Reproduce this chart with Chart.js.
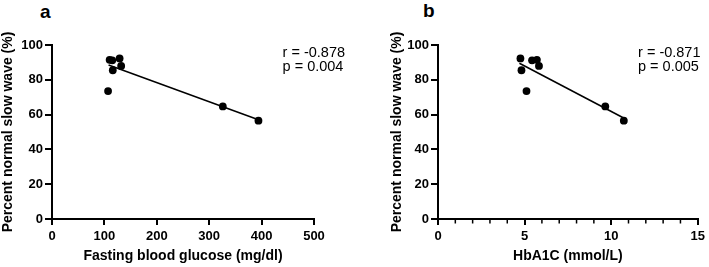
<!DOCTYPE html>
<html>
<head>
<meta charset="utf-8">
<script src="https://cdn.jsdelivr.net/npm/chart.js@4.4.1/dist/chart.umd.min.js"></script>
<style>
  html, body { margin: 0; padding: 0; background: #fff; }
  body { width: 709px; height: 267px; position: relative; overflow: hidden; font-family: "Liberation Sans", Arial, sans-serif; }
  canvas { position: absolute; top: 0; }
  #chartA { left: 0; }
  #chartB { left: 386px; }
  .panel { position: absolute; font-weight: bold; font-size: 19px; color: #000; }
</style>
</head>
<body>
<div class="panel" style="left:40px;top:1px;">a</div>
<div class="panel" style="left:423px;top:0px;">b</div>
<canvas id="chartA" width="380" height="267"></canvas>
<canvas id="chartB" width="323" height="267"></canvas>
<script>
// percent of normal slow wave, one value per patient
const slowWave = [73.5, 91.5, 91.2, 92.3, 85.5, 88.0, 64.7, 56.5]
// fasting blood glucose (mg/dl), same patient order
const glucose = [107, 110, 115, 129, 116, 132, 326, 394]
// HbA1C (mmol/L), same patient order
const hba1c = [5.11, 5.71, 5.43, 4.76, 4.82, 5.83, 9.66, 10.73]

// regression line end points
const fitGlucoseX = [108, 394]
const fitGlucoseY = [88.5, 57.0]
const fitHbX = [4.7, 10.75]
const fitHbY = [89.5, 57.9]

const yTicks = [0, 20, 40, 60, 80, 100]
const statsA = ['r = -0.878', 'p = 0.004']
const statsB = ['r = -0.871', 'p = 0.005']

Chart.defaults.font.family = '"Liberation Sans", Arial, Helvetica, sans-serif'
Chart.defaults.color = '#000'

// r / p text in the upper right of the plot
const statText = {
  id: 'statText',
  afterDraw(chart, args, opts) {
    const { ctx, scales } = chart
    const x = scales.x.getPixelForValue(opts.xValue)
    ctx.save()
    ctx.font = '14.5px "Liberation Sans", Arial, sans-serif'
    ctx.fillStyle = '#000'
    ctx.textBaseline = 'middle'
    ctx.textAlign = 'left'
    opts.lines.forEach((t, i) => {
      ctx.fillText(t, x, chart.chartArea.top + 8 + i * 14)
    })
    ctx.restore()
  }
}

// short unlabelled ticks between the major ones
const minorTicks = {
  id: 'minorTicks',
  afterDraw(chart, args, opts) {
    if (!opts.values) return
    const { ctx, scales } = chart
    const y0 = chart.chartArea.bottom
    ctx.save()
    ctx.strokeStyle = '#000'
    ctx.lineWidth = 1.5
    opts.values.forEach(v => {
      const x = scales.x.getPixelForValue(v)
      ctx.beginPath()
      ctx.moveTo(x, y0)
      ctx.lineTo(x, y0 + 4.5)
      ctx.stroke()
    })
    ctx.restore()
  }
}

function makeChart(id, xs, fitX, fitY, xOpts, xTitle, stats, statX, rightPad, yTitlePad, minor) {
  const points = xs.map((x, i) => ({ x: x, y: slowWave[i] }))
  const fit = fitX.map((x, i) => ({ x: x, y: fitY[i] }))
  return new Chart(document.getElementById(id), {
    type: 'scatter',
    data: {
      datasets: [
        {
          data: fit,
          showLine: true,
          borderColor: '#000',
          borderWidth: 1.5,
          pointRadius: 0,
          order: 2,
        },
        {
          data: points,
          backgroundColor: '#000',
          borderWidth: 0,
          pointRadius: 3.9,
          order: 1,
        },
      ],
    },
    options: {
      responsive: false,
      animation: false,
      events: [],
      layout: { padding: { top: 45, right: rightPad, left: 0, bottom: 0 } },
      plugins: {
        legend: { display: false },
        tooltip: { enabled: false },
        statText: { lines: stats, xValue: statX },
        minorTicks: { values: minor },
      },
      scales: {
        x: {
          type: 'linear',
          min: xOpts.min,
          max: xOpts.max,
          afterFit: s => { s.height = 48 },
          afterBuildTicks: s => { s.ticks = xOpts.ticks.map(v => ({ value: v })) },
          border: { color: '#000', width: 2 },
          grid: { drawOnChartArea: false, color: '#000', lineWidth: 2, tickLength: 6 },
          ticks: { font: { size: 13, weight: 'bold' }, padding: 4, color: '#000', maxRotation: 0 },
          title: { display: true, text: xTitle, font: { size: 14, weight: 'bold' }, padding: { top: 0, bottom: 2 }, color: '#000' },
        },
        y: {
          type: 'linear',
          min: 0,
          max: 100,
          afterFit: s => { s.width = 52 },
          afterBuildTicks: s => { s.ticks = yTicks.map(v => ({ value: v })) },
          border: { color: '#000', width: 2 },
          grid: { drawOnChartArea: false, color: '#000', lineWidth: 2, tickLength: 7 },
          ticks: { font: { size: 13, weight: 'bold' }, padding: 2, color: '#000' },
          title: { display: true, text: 'Percent normal slow wave (%)', font: { size: 14, weight: 'bold' }, padding: { top: yTitlePad, bottom: 0 }, color: '#000' },
        },
      },
    },
    plugins: [statText, minorTicks],
  })
}

makeChart('chartA', glucose, fitGlucoseX, fitGlucoseY,
  { min: 0, max: 500, ticks: [0, 100, 200, 300, 400, 500] },
  'Fasting blood glucose (mg/dl)', statsA, 440, 66, 0, null)

makeChart('chartB', hba1c, fitHbX, fitHbY,
  { min: 0, max: 15, ticks: [0, 5, 10, 15] },
  'HbA1C (mmol/L)', statsB, 11.55, 8, 3, [1, 2, 3, 4, 6, 7, 8, 9, 11, 12, 13, 14])
</script>
</body>
</html>
